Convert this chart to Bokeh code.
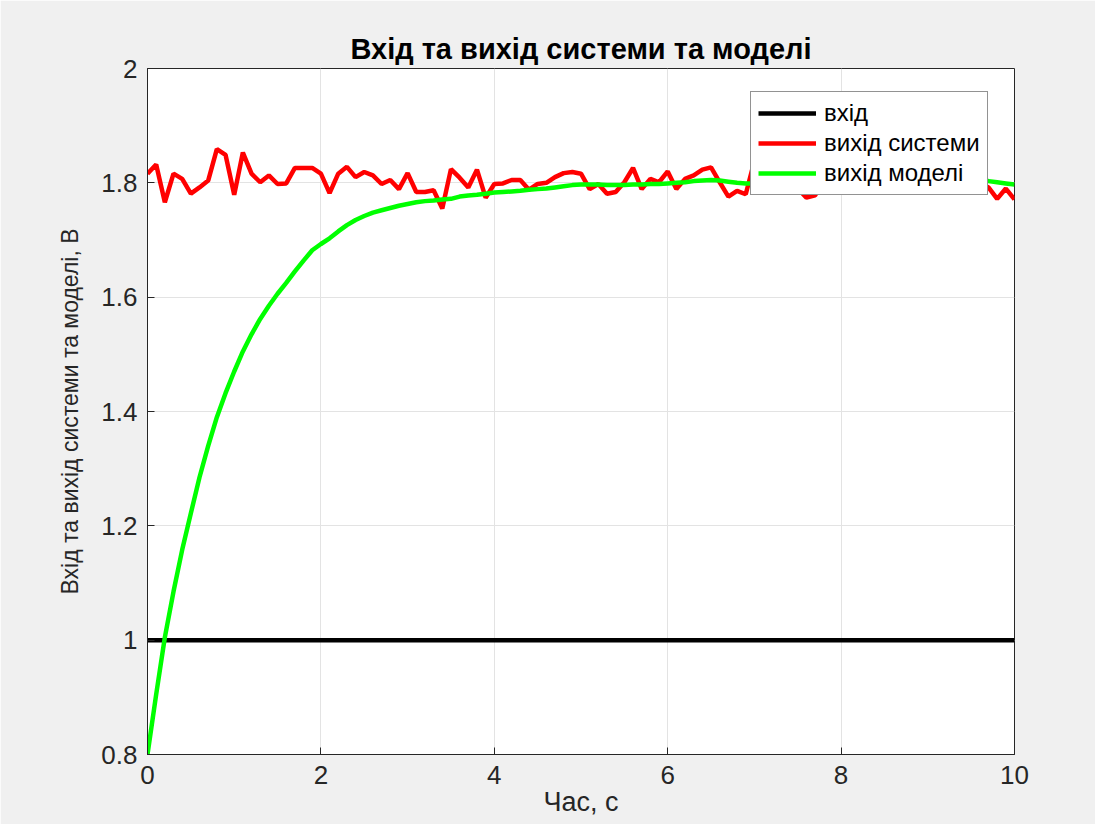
import numpy as np
from bokeh.plotting import figure
from bokeh.models import (ColumnDataSource, Range1d, FixedTicker,
                          Legend, LegendItem)
from bokeh.embed import file_html
from bokeh.resources import INLINE

# ---------------- data ----------------
time_s = np.linspace(0.0, 10.0, 101)  # sample instants, step 0.1 s

input_v = [1.0] * 101

system_out = [
    1.816, 1.832, 1.766, 1.816, 1.807, 1.781, 1.792, 1.804, 1.859, 1.849,
    1.779, 1.853, 1.816, 1.801, 1.813, 1.798, 1.799, 1.826, 1.826, 1.826,
    1.816, 1.782, 1.816, 1.828, 1.810, 1.819, 1.813, 1.798, 1.805, 1.789,
    1.817, 1.784, 1.784, 1.787, 1.755, 1.824, 1.809, 1.792, 1.823, 1.774,
    1.798, 1.799, 1.805, 1.805, 1.788, 1.798, 1.800, 1.810, 1.817, 1.819,
    1.816, 1.789, 1.798, 1.781, 1.784, 1.801, 1.826, 1.789, 1.807, 1.801,
    1.820, 1.789, 1.807, 1.813, 1.823, 1.827, 1.801, 1.776, 1.786, 1.780,
    1.838, 1.812, 1.820, 1.796, 1.808, 1.790, 1.774, 1.778, 1.804, 1.815,
    1.797, 1.821, 1.806, 1.793, 1.812, 1.800, 1.826, 1.795, 1.809, 1.788,
    1.816, 1.803, 1.822, 1.797, 1.811, 1.794, 1.800, 1.792, 1.772, 1.790,
    1.771,
]

model_out = [
    0.800, 0.905, 1.005, 1.085, 1.158, 1.222, 1.285, 1.340, 1.390, 1.432,
    1.470, 1.505, 1.535, 1.562, 1.585, 1.606, 1.625, 1.645, 1.664, 1.682,
    1.693, 1.703, 1.715, 1.726, 1.735, 1.742, 1.748, 1.752, 1.756, 1.760,
    1.763, 1.766, 1.768, 1.769, 1.771, 1.772, 1.776, 1.778, 1.779, 1.781,
    1.783, 1.784, 1.785, 1.786, 1.788, 1.789, 1.790, 1.792, 1.794, 1.796,
    1.797, 1.797, 1.797, 1.796, 1.796, 1.796, 1.797, 1.797, 1.798, 1.798,
    1.799, 1.800, 1.801, 1.803, 1.804, 1.805, 1.804, 1.802, 1.800, 1.799,
    1.799, 1.800, 1.800, 1.801, 1.801, 1.802, 1.802, 1.803, 1.803, 1.803,
    1.804, 1.804, 1.804, 1.804, 1.805, 1.805, 1.805, 1.805, 1.805, 1.805,
    1.805, 1.805, 1.805, 1.805, 1.805, 1.804, 1.804, 1.803, 1.801, 1.799,
    1.797,
]

x_ticks = [0, 2, 4, 6, 8, 10]
x_tick_labels = ["0", "2", "4", "6", "8", "10"]
y_ticks = [0.8, 1.0, 1.2, 1.4, 1.6, 1.8, 2.0]
y_tick_labels = ["0.8", "1", "1.2", "1.4", "1.6", "1.8", "2"]

series_names = ["вхід", "вихід системи", "вихід моделі"]
title_text = "Вхід та вихід системи та моделі"
x_label = "Час, с"
y_label = "Вхід та вихід системи та моделі, В"

# ---------------- figure ----------------
FONT = "Liberation Sans"
AX = "#262626"
BG = "#f0f0f0"

src = ColumnDataSource(dict(t=time_s, u=input_v, y=system_out, m=model_out))

p = figure(width=1095, height=824,
           x_range=Range1d(0, 10), y_range=Range1d(0.8, 2.0),
           output_backend="svg", toolbar_location=None,
           min_border_left=147, min_border_right=81,
           min_border_top=68, min_border_bottom=70)

p.background_fill_color = "white"
p.border_fill_color = BG
p.outline_line_color = AX
p.outline_line_width = 1

p.title.text = title_text
p.title.align = "center"
p.title.text_font = FONT
p.title.text_font_size = "29px"
p.title.text_font_style = "bold"
p.title.text_color = "#000000"
p.title.standoff = 8

for ax in (p.xaxis[0], p.yaxis[0]):
    ax.axis_line_color = AX
    ax.axis_line_width = 1
    ax.major_tick_line_color = AX
    ax.major_tick_in = 7
    ax.major_tick_out = 0
    ax.minor_tick_line_color = None
    ax.major_label_text_font = FONT
    ax.major_label_text_font_size = "26px"
    ax.major_label_text_color = AX
    ax.axis_label_text_font = FONT
    ax.axis_label_text_font_style = "normal"
    ax.axis_label_text_color = AX

p.xaxis.ticker = FixedTicker(ticks=x_ticks)
p.xaxis.major_label_overrides = {float(v): s for v, s in zip(x_ticks, x_tick_labels)}
p.yaxis.ticker = FixedTicker(ticks=y_ticks)
p.yaxis.major_label_overrides = {float(v): s for v, s in zip(y_ticks, y_tick_labels)}
p.xaxis.axis_label = x_label
p.yaxis.axis_label = y_label
p.xaxis.axis_label_text_font_size = "27px"
p.yaxis.axis_label_text_font_size = "23px"
p.xaxis.major_label_standoff = 11
p.yaxis.major_label_standoff = 10
p.xaxis.axis_label_standoff = 0
p.yaxis.axis_label_standoff = 15

p.grid.grid_line_color = "#e3e3e3"
p.grid.grid_line_width = 1
p.xgrid.ticker = FixedTicker(ticks=x_ticks)
p.ygrid.ticker = FixedTicker(ticks=y_ticks)

r_in = p.line("t", "u", source=src, line_color="#000000", line_width=4.5)
r_sys = p.line("t", "y", source=src, line_color="#ff0000", line_width=4.5)
r_mod = p.line("t", "m", source=src, line_color="#00ff00", line_width=4.5)

legend = Legend(items=[LegendItem(label=series_names[0], renderers=[r_in]),
                       LegendItem(label=series_names[1], renderers=[r_sys]),
                       LegendItem(label=series_names[2], renderers=[r_mod])],
                location=(603, 559))
legend.label_text_font = FONT
legend.label_text_font_size = "24px"
legend.label_text_color = "#000000"
legend.border_line_color = AX
legend.border_line_width = 1
legend.background_fill_color = "white"
legend.background_fill_alpha = 1.0
legend.glyph_width = 58
legend.glyph_height = 28
legend.label_height = 28
legend.spacing = 2
legend.padding = 7
legend.margin = 0
legend.label_standoff = 8
p.add_layout(legend)

open("out.html", "w").write(file_html(p, INLINE))
